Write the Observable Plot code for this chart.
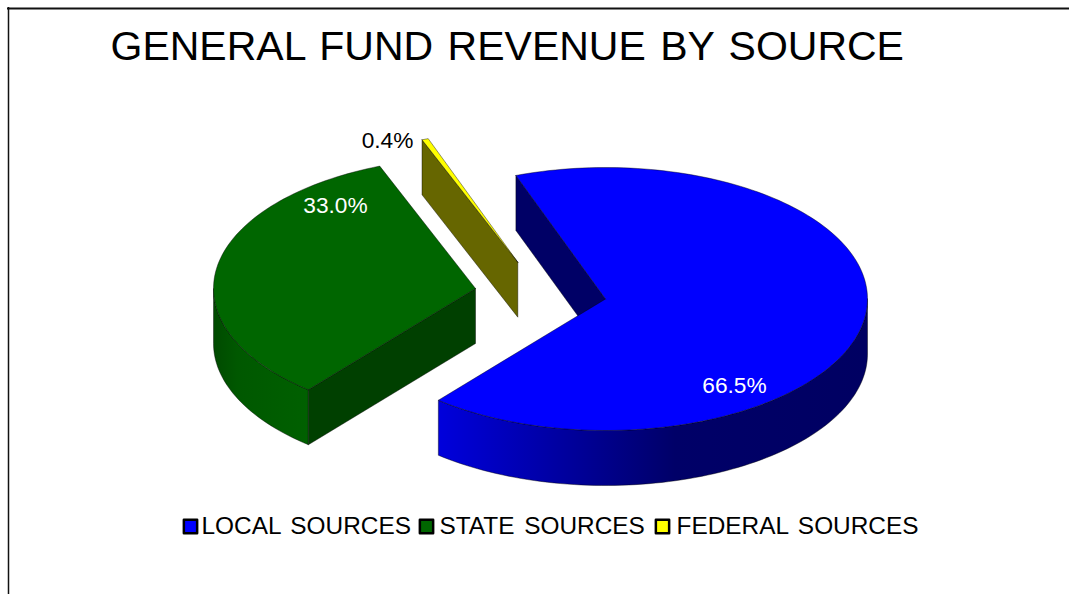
<!DOCTYPE html>
<html>
<head>
<meta charset="utf-8">
<script src="https://cdn.jsdelivr.net/npm/d3@7"></script>
<script src="https://cdn.jsdelivr.net/npm/@observablehq/plot@0.6"></script>
<style>html,body{margin:0;padding:0;background:#fff;overflow:hidden}svg{display:block}</style>
</head>
<body>
<div id="chart"></div>
<script>
const title = "GENERAL FUND REVENUE BY SOURCE";
const categories = ["LOCAL SOURCES", "STATE SOURCES", "FEDERAL SOURCES"];
const shares = [66.5, 33.0, 0.4];
const shareLabels = ["66.5%", "33.0%", "0.4%"];
const topColors = ["#0000ff", "#006600", "#ffff00"];
const labelColors = ["#ffffff", "#ffffff", "#000000"];

// layout of the exploded pie, in pixels of the 1069x594 picture
const W = 1069, H = 594, RX = 262, RY = 131.5, DEPTH = 55, START = -20;
const centers = [[605, 298.5], [475, 288], [517.3, 261.7]];
const labelAt = [[734, 385], [335, 205], [387, 140]];
const legendBoxX = [190, 426, 662], legendTextX = [201, 439, 676], legendY = 526;

const total = d3.sum(shares);
let acc = START;
const slices = shares.map((v, i) => {
  const a0 = acc, a1 = acc + v / total * 360;
  acc = a1;
  return {i, a0, a1, c: centers[i]};
});
const pt = (c, a, dz = 0) => {
  const t = a * Math.PI / 180;
  return {x: c[0] + RX * Math.sin(t), y: c[1] - RY * Math.cos(t) + dz};
};
const arc = (c, a0, a1, dz = 0) => {
  const n = Math.max(2, Math.ceil(Math.abs(a1 - a0) / 1.5));
  return d3.range(n + 1).map(k => pt(c, a0 + (a1 - a0) * k / n, dz));
};
const closed = pts => [...pts, pts[0]];
const edge = {stroke: "#000", strokeWidth: 0.7, strokeOpacity: 0.6, strokeLinejoin: "round"};
const poly = (pts, fill) => Plot.line(closed(pts), {x: "x", y: "y", fill, curve: "linear", ...edge});

const face = s => poly([{x: s.c[0], y: s.c[1]}, ...arc(s.c, s.a0, s.a1)], topColors[s.i]);
const radialWall = (s, a, fill) => {
  const p = pt(s.c, a);
  return poly([p, {x: s.c[0], y: s.c[1]}, {x: s.c[0], y: s.c[1] + DEPTH}, {x: p.x, y: p.y + DEPTH}], fill);
};
const rimWall = (s, a0, a1, fill) => poly([...arc(s.c, a0, a1), ...arc(s.c, a1, a0, DEPTH)], fill);

const gradient = (defs, id, x1, x2, stops) => {
  const g = defs.append("linearGradient").attr("id", id)
    .attr("gradientUnits", "userSpaceOnUse")
    .attr("x1", x1).attr("x2", x2).attr("y1", 0).attr("y2", 0);
  stops.forEach(([o, c]) => g.append("stop").attr("offset", o).attr("stop-color", c));
};
const defsMark = () => {
  const defs = d3.create("svg:defs");
  gradient(defs, "blueRim", 438, 868, [[0, "#0000dc"], [0.55, "#000068"], [1, "#000062"]]);
  gradient(defs, "greenRim", 213, 308, [[0, "#004a00"], [0.25, "#005800"], [1, "#006000"]]);
  return defs.node();
};

const [blue, green, yellow] = slices;
const chart = Plot.plot({
  width: W, height: H,
  margin: 0,
  x: {domain: [0, W], range: [0, W], axis: null},
  y: {domain: [0, H], range: [0, H], axis: null},
  style: {background: "#fff", fontFamily: "Liberation Sans, Arial, sans-serif", wordSpacing: "3px"},
  color: {type: "identity"},
  marks: [
    defsMark,
    // picture frame
    Plot.ruleY([8], {x1: 7, x2: W, stroke: "#111", strokeWidth: 2}),
    Plot.ruleX([8], {y1: 7, y2: H, stroke: "#111", strokeWidth: 1.5}),
    // federal sliver
    radialWall(yellow, yellow.a0, "#666600"),
    face(yellow),
    // state slice
    rimWall(green, green.a0, 270, "url(#greenRim)"),
    radialWall(green, green.a0, "#004000"),
    face(green),
    // local slice
    radialWall(blue, blue.a0, "#000066"),
    rimWall(blue, 90, blue.a1, "url(#blueRim)"),
    face(blue),
    // share labels
    Plot.text(shareLabels, {
      x: (d, i) => labelAt[i][0], y: (d, i) => labelAt[i][1], text: d => d,
      fill: (d, i) => labelColors[i], fontSize: 22.7, textAnchor: "middle", lineAnchor: "middle"
    }),
    // title
    Plot.text([title], {x: 110, y: 46, text: d => d, fontSize: 41, textAnchor: "start", lineAnchor: "middle", fill: "#000"}),
    // legend
    Plot.dot(categories, {
      x: (d, i) => legendBoxX[i], y: legendY, symbol: "square", r: 7.5,
      fill: (d, i) => topColors[i], stroke: "#000", strokeWidth: 2.5, strokeLinejoin: "round"
    }),
    Plot.text(categories, {
      x: (d, i) => legendTextX[i], y: legendY, text: d => d, fontSize: 24.4,
      textAnchor: "start", lineAnchor: "middle", fill: "#000"
    })
  ]
});
document.getElementById("chart").append(chart);
</script>
</body>
</html>
